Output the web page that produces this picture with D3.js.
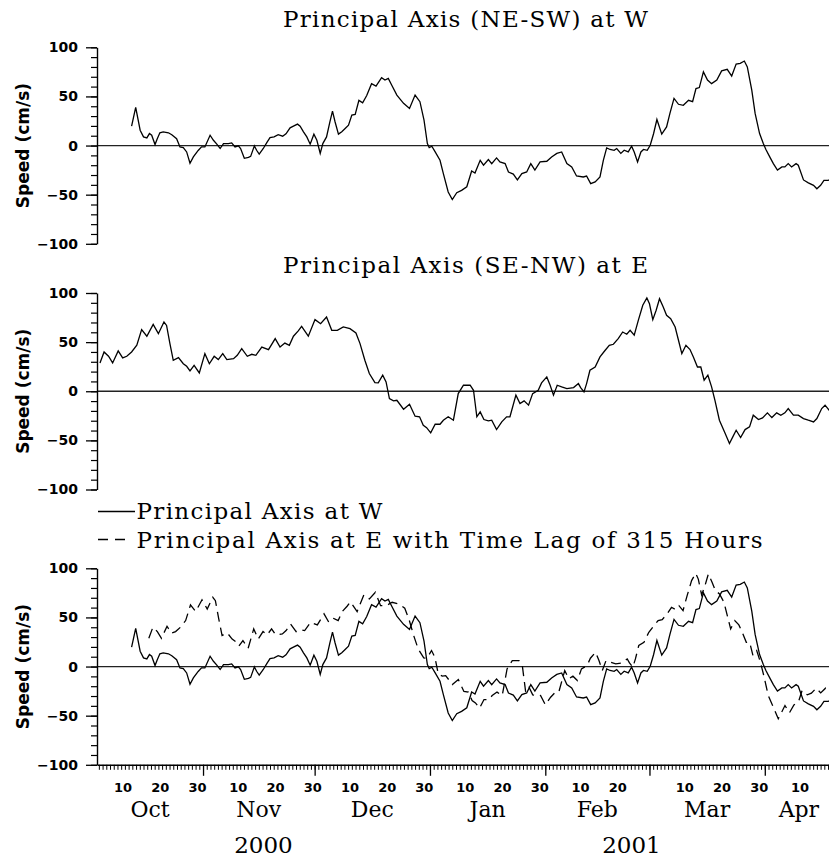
<!DOCTYPE html>
<html>
<head>
<meta charset="utf-8">
<script src="https://cdn.jsdelivr.net/npm/d3@7"></script>
<style>
  body { margin: 0; background: #fff; }
  svg { display: block; }
</style>
</head>
<body>
<div id="chart"></div>
<script>
(function () {
  "use strict";

  // days since 2000-10-01 00:00 UTC, speed in cm/s
  var wDay = [11.8, 12.9, 14.1, 15.0, 15.9, 16.6, 17.2, 18.1, 18.7, 19.4, 20.3, 21.7, 22.6, 23.9, 24.8, 25.7, 26.6, 27.5, 28.4, 29.7,
    30.6, 31.5, 32.9, 33.8, 34.7, 35.6, 36.5, 37.8, 38.7, 39.6, 40.5, 41.1, 42.1, 43.2, 43.8, 44.8, 45.4, 46.1, 47.2, 48.1,
    49.0, 50.1, 51.2, 52.4, 53.3, 54.4, 55.3, 56.4, 57.1, 58.0, 58.9, 59.8, 60.8, 61.6, 62.5, 63.2, 64.2, 65.1, 65.8, 66.5,
    67.4, 68.3, 69.2, 70.1, 71.0, 71.9, 72.9, 73.9, 75.0, 76.3, 77.5, 79.0, 79.9, 80.8, 81.7, 83.1, 84.9, 86.5, 88.0, 89.3,
    90.4, 91.3, 91.8, 92.5, 93.4, 94.7, 95.6, 96.9, 98.0, 99.2, 100.5, 101.9, 103.2, 104.1, 105.5, 106.4, 107.7, 108.6, 109.9, 110.8,
    112.2, 113.1, 114.4, 115.5, 116.7, 118.0, 119.1, 120.2, 121.6, 123.4, 124.7, 126.1, 127.4, 128.8, 130.1, 131.4, 133.2, 134.1, 135.2, 136.4,
    137.7, 138.6, 139.5, 140.4, 141.5, 142.2, 143.3, 144.2, 145.3, 146.2, 146.9, 147.8, 148.7, 149.4, 150.4, 151.2, 152.1, 153.0, 154.3, 155.6,
    156.5, 157.6, 158.8, 160.1, 161.5, 162.6, 163.5, 164.4, 165.5, 166.6, 167.7, 169.1, 170.4, 171.9, 173.1, 174.3, 175.4, 176.5, 177.3, 178.5,
    179.4, 180.6, 181.6, 182.3, 183.4, 184.3, 185.4, 186.6, 187.4, 188.3, 189.2, 190.4, 191.0, 192.4, 193.7, 195.1, 196.0, 197.0, 197.9, 199.0, 200.5];
  var wSpeed = [19.7, 38.8, 15.6, 8.8, 7.8, 12.2, 10.5, 1, 7, 13, 14, 13, 11, 7, -1.4, -2, -6.5, -18, -11.6, -5,
    -1.4, -1.4, 10.5, 5.4, 1.4, -3, 2, 2, 2.7, -1.4, -0.3, -3, -13, -12, -11, -0.3, -4.8, -8.8, -3, 2.7,
    8, 8.8, 11, 9.5, 12, 18, 19.7, 21.8, 19.7, 14, 8.8, 1.4, 11.6, 5.4, -8, 2, 8.8, 24, 35, 24,
    11.6, 14, 17.3, 20.7, 31, 31.6, 46, 43.5, 51, 63, 60.5, 69, 66.7, 68.4, 61.6, 51.4, 43, 37.8, 51.4, 44.6,
    25.9, 2, -2, -0.7, -6.5, -15, -28.6, -47.3, -55, -48, -45.6, -42, -25.9, -28, -15, -20, -14.3, -18.4, -12.6, -16.7,
    -18.4, -26.9, -29, -35, -28.6, -26.9, -18.4, -25, -16.7, -16, -11.6, -8, -6.5, -18.4, -21.8, -31, -32, -31, -38.8, -37,
    -32, -15, -2.4, -4, -4.8, -3, -8, -4.8, -6.5, -0.7, -6.5, -16.7, -6.5, -4, -4.8, 0.3, 12, 26.5, 11.6, 19,
    32.7, 48, 42, 41, 46, 44.6, 58, 59, 75, 66.7, 63, 66.7, 76, 77.6, 70.7, 83, 83.7, 86, 80, 56.5,
    32.7, 12.2, 2, -4, -12, -18.4, -25, -21.8, -21.8, -18.4, -21.8, -18.4, -20, -35, -38, -40.5, -44, -40.5, -35.4, -35.4, -33];

  var eDay = [3.3, 4.4, 5.6, 6.7, 8.2, 9.4, 10.5, 11.8, 13.2, 14.5, 15.9, 17.6, 19.0, 20.5, 21.2, 22.1, 23.0, 24.4, 25.7, 26.6,
    27.5, 28.6, 30.0, 31.5, 32.7, 34.0, 35.1, 36.3, 37.4, 39.2, 40.2, 41.4, 42.9, 44.1, 45.2, 46.8, 48.6, 50.4, 51.7, 53.0,
    54.2, 55.3, 56.6, 57.5, 59.3, 61.1, 62.6, 64.2, 65.6, 67.1, 68.7, 70.5, 72.1, 73.2, 74.5, 75.7, 77.2, 78.1, 79.3, 80.2,
    81.1, 82.2, 83.1, 84.9, 86.5, 88.0, 89.2, 90.2, 91.1, 92.2, 93.4, 94.7, 95.6, 96.9, 98.3, 99.6, 101.0, 102.8, 103.7, 104.6,
    105.5, 106.5, 107.7, 108.6, 109.9, 111.3, 112.6, 113.5, 115.1, 116.2, 117.3, 118.5, 119.6, 121.1, 122.0, 123.4, 124.3, 125.2, 126.2, 127.4,
    128.8, 130.6, 131.9, 132.5, 133.4, 134.1, 135.0, 136.4, 137.7, 139.1, 140.2, 141.3, 142.6, 143.8, 144.9, 145.8, 146.9, 148.0, 149.2, 150.3,
    151.0, 151.9, 152.8, 153.7, 154.7, 155.6, 156.7, 157.9, 158.8, 159.7, 160.8, 161.9, 162.8, 163.9, 164.8, 165.7, 166.7, 167.7, 168.6, 169.8,
    171.3, 172.5, 173.4, 174.3, 175.5, 176.7, 177.9, 178.9, 180.3, 181.4, 182.7, 183.9, 185.2, 186.3, 187.4, 188.3, 189.7, 191.0, 192.4, 193.7,
    195.1, 196.0, 197.3, 198.2, 199.3, 200.5];
  var eSpeed = [28.8, 40, 35.6, 28.8, 41, 33.9, 35.6, 40, 46.8, 62.7, 56, 68, 58.6, 70.5, 67, 48.5, 31.5, 34.2, 28, 25.4,
    20.7, 26.4, 18.6, 38.3, 28, 35.6, 32.2, 38.3, 32.2, 33.2, 36.6, 43.4, 35.6, 37.6, 36.6, 45, 42.4, 53.6, 45, 49,
    46.8, 56, 61.4, 66, 56, 72.9, 68.8, 75.6, 62, 62, 65.4, 63.7, 59.3, 48.5, 31.5, 18, 8.8, 8.5, 16.3, 9.5,
    -7.5, -9.8, -9.2, -18.3, -13.2, -25.4, -26, -34.6, -37, -42.4, -33.6, -33.6, -29.5, -26, -29.5, -2.4, 6.1, 6.1, 1, -26,
    -21, -28.8, -30.2, -29.5, -39, -31.2, -26, -26, -4, -12.5, -9.8, -14.2, -2.4, 1, 8.5, 14.6, 6.1, -4, 6.1, 4.4,
    2.7, 3.7, 7.8, 3.7, -0.7, 7.8, 21.4, 24.7, 34.9, 41.7, 46.8, 47.8, 53.6, 60.3, 58, 62, 57, 72.2, 87.5, 95,
    89, 72.9, 82.4, 94.2, 85.8, 77.3, 73.9, 65.4, 51.9, 38.3, 46.8, 42.4, 34.9, 24.7, 24.7, 11.2, 16.3, 4.4, -9.2, -29.5,
    -42.4, -53.2, -46.4, -39.7, -47.1, -39, -36.3, -24.4, -28.8, -27.1, -22, -26.8, -22, -24.4, -22, -17.6, -24.4, -24.4, -27.8, -29.5,
    -31.2, -27.8, -17.6, -14.2, -19.3, -22];

  var LAG_HOURS = 315;
  var yMajorTicks = [-100, -50, 0, 50, 100];
  var dayLabels = [10, 20, 30];
  var panelTitles = ["Principal Axis (NE-SW) at W", "Principal Axis (SE-NW) at E"];
  var legendLabels = ["Principal Axis at W", "Principal Axis at E with Time Lag of 315 Hours"];
  var yLabel = "Speed (cm/s)";

  var WIDTH = 829, HEIGHT = 857;
  var PLOT_LEFT = 97, PLOT_RIGHT = 833, PANEL_H = 196.5;
  var SERIF = "'DejaVu Serif', serif";
  var SANS = "'DejaVu Sans', sans-serif";
  var T0 = Date.UTC(2000, 9, 1);

  function toDate(d) { return new Date(T0 + d * 864e5); }

  var x = d3.scaleUtc()
    .domain([new Date(Date.UTC(2000, 9, 3, 12)), new Date(Date.UTC(2001, 3, 19, 8))])
    .range([PLOT_LEFT, PLOT_RIGHT]);

  var wData = wDay.map(function (d, i) { return { t: toDate(d), v: wSpeed[i] }; });
  var eData = eDay.map(function (d, i) { return { t: toDate(d), v: eSpeed[i] }; });
  var eLagData = eDay.map(function (d, i) { return { t: toDate(d + LAG_HOURS / 24), v: eSpeed[i] }; });

  var panels = [
    { top: 47.3, title: panelTitles[0], series: [{ data: wData, dash: null }] },
    { top: 293, title: panelTitles[1], series: [{ data: eData, dash: null }] },
    { top: 568.3, title: null, series: [{ data: wData, dash: null }, { data: eLagData, dash: "10,6" }] }
  ];

  var svg = d3.select("#chart").append("svg")
    .attr("width", WIDTH)
    .attr("height", HEIGHT)
    .style("background", "#fff");

  svg.append("defs").append("clipPath").attr("id", "plot-clip")
    .append("rect").attr("x", PLOT_LEFT).attr("y", 0).attr("width", PLOT_RIGHT - PLOT_LEFT).attr("height", HEIGHT);

  panels.forEach(function (p, idx) {
    var y = d3.scaleLinear().domain([-100, 100]).range([p.top + PANEL_H, p.top]);
    var g = svg.append("g");

    if (p.title) {
      g.append("text")
        .attr("x", 283).attr("y", p.top - 20.5)
        .attr("textLength", 365).attr("lengthAdjust", "spacing")
        .style("font-family", SERIF).style("font-size", "23px")
        .text(p.title);
    }

    // zero line
    g.append("line")
      .attr("x1", PLOT_LEFT).attr("x2", PLOT_RIGHT)
      .attr("y1", y(0)).attr("y2", y(0))
      .attr("stroke", "#222").attr("stroke-width", 1.3);

    // minor y ticks
    var minor = g.append("g").attr("transform", "translate(" + PLOT_LEFT + ",0)")
      .call(d3.axisLeft(y).tickValues(d3.range(-100, 101, 10)).tickSize(6).tickSizeOuter(0).tickFormat(""));
    minor.select(".domain").remove();
    minor.selectAll("line").attr("stroke", "#000").attr("stroke-width", 1.2);

    var major = g.append("g").attr("transform", "translate(" + PLOT_LEFT + ",0)")
      .call(d3.axisLeft(y).tickValues(yMajorTicks).tickSize(11).tickPadding(8).tickSizeOuter(0).tickFormat(d3.format("d")));
    major.select(".domain").attr("stroke", "#000").attr("stroke-width", 1.4);
    major.selectAll("line").attr("stroke", "#000").attr("stroke-width", 1.3);
    major.selectAll("text")
      .style("font-family", SANS).style("font-size", "14px").style("font-weight", "bold").attr("fill", "#000");

    g.append("text")
      .attr("transform", "translate(29," + y(0) + ") rotate(-90)")
      .attr("text-anchor", "middle")
      .style("font-family", SANS).style("font-size", "17px").style("font-weight", "bold")
      .text(yLabel);

    var line = d3.line()
      .x(function (d) { return x(d.t); })
      .y(function (d) { return y(d.v); });

    p.series.forEach(function (s) {
      g.append("path")
        .datum(s.data)
        .attr("clip-path", "url(#plot-clip)")
        .attr("d", line)
        .attr("fill", "none")
        .attr("stroke", "#000")
        .attr("stroke-width", 1.3)
        .attr("stroke-dasharray", s.dash);
    });

    if (idx === panels.length - 1) {
      var base = p.top + PANEL_H;
      var dayAxis = g.append("g").attr("transform", "translate(0," + base + ")")
        .call(d3.axisBottom(x).ticks(d3.utcDay.every(1)).tickSize(5).tickSizeOuter(0).tickFormat(""));
      dayAxis.select(".domain").attr("stroke", "#000").attr("stroke-width", 1.4);
      dayAxis.selectAll("line").attr("stroke", "#000").attr("stroke-width", 1);

      var monthAxis = g.append("g").attr("transform", "translate(0," + base + ")")
        .call(d3.axisBottom(x).ticks(d3.utcMonth.every(1)).tickSize(11).tickSizeOuter(0).tickFormat(""));
      monthAxis.select(".domain").remove();
      monthAxis.selectAll("line").attr("stroke", "#000").attr("stroke-width", 1.3);

      var dom = x.domain();
      var labelDays = d3.utcDay.range(dom[0], dom[1])
        .filter(function (d) { return dayLabels.indexOf(d.getUTCDate()) >= 0; })
        .map(function (d) { return new Date(+d + 12 * 36e5); });
      g.selectAll(".day-label").data(labelDays).join("text")
        .attr("class", "day-label")
        .attr("x", function (d) { return x(d); }).attr("y", 791.5)
        .attr("text-anchor", "middle")
        .style("font-family", SANS).style("font-size", "13px").style("font-weight", "bold")
        .text(function (d) { return d.getUTCDate(); });

      var months = d3.utcMonth.range(d3.utcMonth.floor(dom[0]), dom[1]);
      g.selectAll(".month-label").data(months).join("text")
        .attr("class", "month-label")
        .attr("x", function (d) {
          var a = d < dom[0] ? dom[0] : d;
          var b = d3.utcMonth.offset(d, 1);
          b = b > dom[1] ? dom[1] : b;
          return (x(a) + x(b)) / 2;
        })
        .attr("y", 816.5)
        .attr("text-anchor", "middle")
        .style("font-family", SERIF).style("font-size", "22px")
        .text(d3.utcFormat("%b"));

      var years = d3.utcYear.range(d3.utcYear.floor(dom[0]), dom[1]);
      g.selectAll(".year-label").data(years).join("text")
        .attr("class", "year-label")
        .attr("x", function (d) {
          var a = d < dom[0] ? dom[0] : d;
          var b = d3.utcYear.offset(d, 1);
          b = b > dom[1] ? dom[1] : b;
          return (x(a) + x(b)) / 2;
        })
        .attr("y", 853)
        .attr("text-anchor", "middle")
        .style("font-family", SERIF).style("font-size", "23px")
        .text(d3.utcFormat("%Y"));
    }
  });

  // legend
  var legend = svg.append("g");
  legend.append("line")
    .attr("x1", 98).attr("x2", 135).attr("y1", 511.5).attr("y2", 511.5)
    .attr("stroke", "#000").attr("stroke-width", 1.3);
  legend.append("line")
    .attr("x1", 98).attr("x2", 126).attr("y1", 539.5).attr("y2", 539.5)
    .attr("stroke", "#000").attr("stroke-width", 1.3).attr("stroke-dasharray", "10,7");
  legend.append("text")
    .attr("x", 136.5).attr("y", 519)
    .attr("textLength", 246).attr("lengthAdjust", "spacing")
    .style("font-family", SERIF).style("font-size", "23px")
    .text(legendLabels[0]);
  legend.append("text")
    .attr("x", 136.5).attr("y", 547.5)
    .attr("textLength", 626).attr("lengthAdjust", "spacing")
    .style("font-family", SERIF).style("font-size", "23px")
    .text(legendLabels[1]);
})();
</script>
</body>
</html>
